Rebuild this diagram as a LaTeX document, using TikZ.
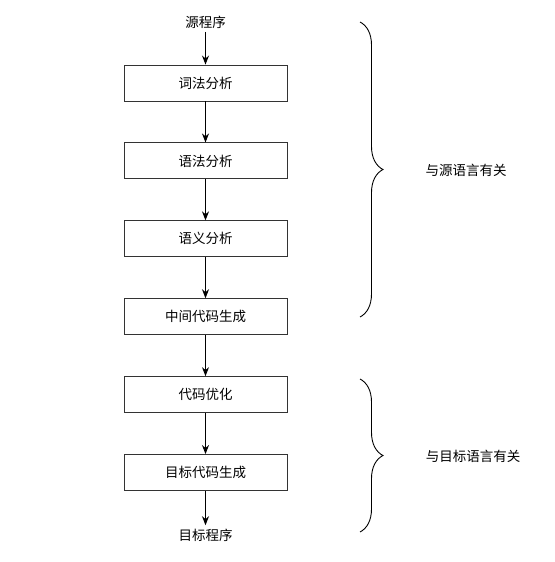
\documentclass[tikz,border=0pt]{standalone}
\usepackage{fontspec}
\setmainfont{Noto Sans CJK SC}
\usetikzlibrary{positioning,arrows.meta,decorations.pathreplacing}

\tikzset{
	stage/.style={draw=black!80,line width=0.9pt,minimum width=163pt,minimum height=36pt,inner sep=0pt},
	flow/.style={line width=0.9pt,-{Stealth[length=9pt,width=7pt]}},
	groupbrace/.style={line width=0.9pt,decorate,decoration={brace,amplitude=23pt}}
}

\begin{document}
\begin{tikzpicture}[x=1pt,y=-1pt,font=\fontsize{13.5pt}{15pt}\selectfont]
		\useasboundingbox (0,0) rectangle (554,562);
		
		% phases
		\node (src) at (205.5,22) {源程序};
		\node[stage] (lex) at (205.5,83) {词法分析};
		\node[stage,below=41pt of lex] (syn) {语法分析};
		\node[stage,below=41pt of syn] (sem) {语义分析};
		\node[stage,below=41pt of sem] (ir) {中间代码生成};
		\node[stage,below=41pt of ir] (opt) {代码优化};
		\node[stage,below=41pt of opt] (gen) {目标代码生成};
		\node (tgt) at (205.5,535) {目标程序};
		
		\foreach \a/\b in {src/lex,lex/syn,syn/sem,sem/ir,ir/opt,opt/gen,gen/tgt}
			\draw[flow] (\a) -- (\b);
		
		% braces
		\coordinate (b1top) at (360,22);
		\coordinate (b1bot) at (360,317);
		\coordinate (b2top) at (360,379);
		\coordinate (b2bot) at (360,532);
		\draw[groupbrace] (b1top) -- (b1bot);
		\draw[groupbrace] (b2top) -- (b2bot);
		\node (srclang) at (466,170) {与源语言有关};
		\node (tgtlang) at (473,456) {与目标语言有关};
	\end{tikzpicture}
\end{document}
